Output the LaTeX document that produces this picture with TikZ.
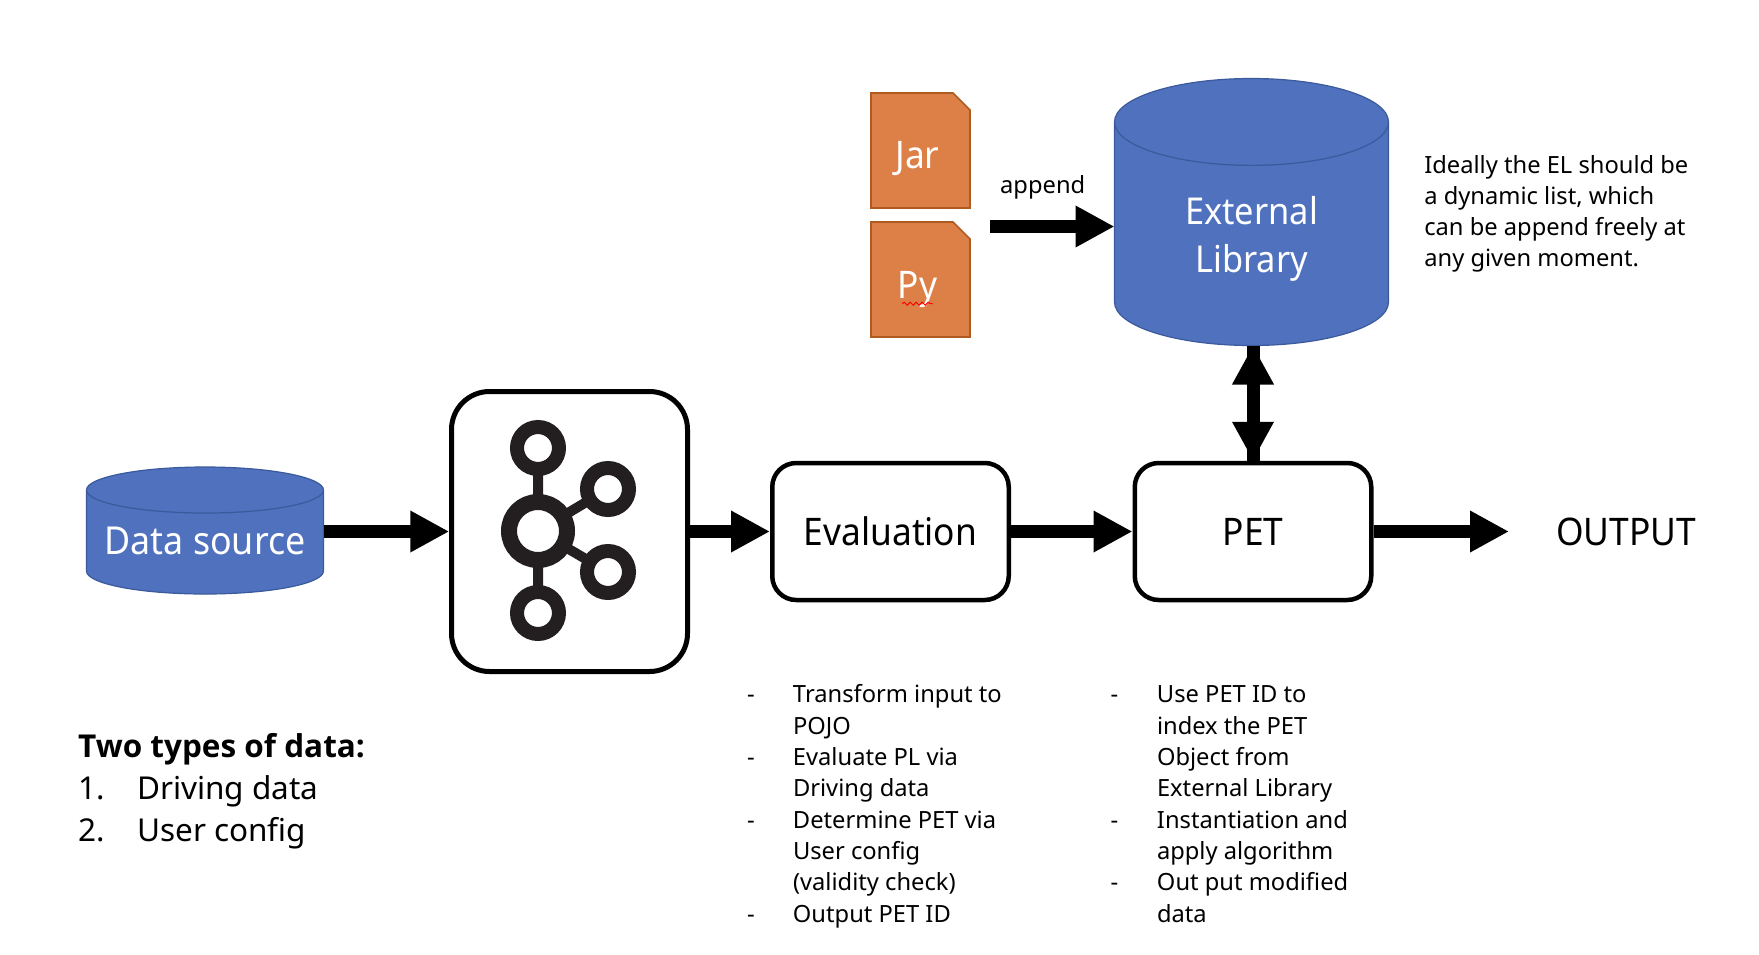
\documentclass[tikz,border=0pt]{standalone}
\usepackage{fontspec}
\setmainfont{Noto Sans}
\newfontfamily\narrowfont[FakeStretch=0.93]{Noto Sans}
\newfontfamily\headfont{Open Sans}
\usetikzlibrary{arrows.meta,calc,shapes.geometric,decorations.pathmorphing}
\definecolor{dbblue}{HTML}{4F71BE}
\definecolor{dbedge}{HTML}{3A5A9B}
\definecolor{docorange}{HTML}{DD8047}
\definecolor{docedge}{HTML}{AE5A21}
\definecolor{logoblack}{HTML}{231F20}
\tikzset{
	dbnode/.style={shape=cylinder,shape border rotate=90,anchor=shape center,draw=dbedge,fill=dbblue,line width=1.2pt,text=white,inner sep=0pt,outer sep=0pt,align=center},
	procbox/.style={draw,rounded corners=24pt,line width=4.5pt,fill=white,inner sep=0pt,outer sep=2.25pt,minimum width=236.5pt,minimum height=137pt},
	flow/.style={line width=13pt,-{Triangle[length=39pt,width=39pt]}},
	twoway/.style={line width=13pt,{Triangle[length=39pt,width=39pt]}-{Triangle[length=39pt,width=39pt]}},
	twoshaft/.style={line width=13pt},
	docshape/.style={draw=docedge,fill=docorange,line width=1.6pt},
	note/.style={font=\fontsize{23.7}{31.3}\selectfont,inner sep=0pt,outer sep=0pt},
}
\begin{document}
\begin{tikzpicture}[x=1pt,y=-1pt]
	\useasboundingbox (0,0) rectangle (1759,954);
	% documents
	\foreach \y in {93,222} {
		\draw[docshape] (871,\y) -- (953,\y) -- (970,\y+17) -- (970,\y+115) -- (871,\y+115) -- cycle;
	}
	\node[text=white,font=\narrowfont\fontsize{38}{38}\selectfont] (jar) at (917.5,159) {Jar};
	\node[text=white,font=\narrowfont\fontsize{38}{38}\selectfont] (py) at (917.5,289) {Py};
	\draw[red,line width=1pt,decorate,decoration={snake,amplitude=1.5pt,segment length=6pt}] ($(py.south west)+(8,-7)$) -- ($(py.south east)+(-8,-7)$);
	% databases
	\node[dbnode,minimum width=274pt,minimum height=267pt,shape aspect=0.654,font=\narrowfont\fontsize{37}{48}\selectfont] (extlib) at (1251.5,212) {\smash{\raisebox{-11.5pt}{\begin{tabular}{@{}c@{}}External\\Library\end{tabular}}}};
	\node[dbnode,minimum width=237pt,minimum height=127pt,shape aspect=0.229,font=\narrowfont\fontsize{38.5}{38.5}\selectfont] (datasrc) at (205,530.5) {\smash{\raisebox{-12pt}{Data source}}};
	% boxes
	\node[procbox,rounded corners=38pt,line width=5pt,minimum width=236pt,minimum height=280pt] (kafka) at (569.5,531.5) {};
	\node[procbox,font=\narrowfont\fontsize{38}{38}\selectfont] (eval) at (890.5,531.5) {Evaluation};
	\node[procbox,font=\narrowfont\fontsize{38}{38}\selectfont] (pet) at (1253,531.5) {PET};
	\node[font=\narrowfont\fontsize{38}{38}\selectfont,inner sep=0pt] (output) at (1626,532) {OUTPUT};
	% logo
	\draw[logoblack,line width=10pt] (538,448) -- (538,613) (538,531) -- (608,489) (538,531) -- (608,572);
	\foreach \cx/\cy in {538/448,608/489,608/572,538/613} {
		\draw[logoblack,line width=14pt,fill=white] (\cx,\cy) circle (21pt);
	}
	\draw[logoblack,line width=16pt,fill=white] (538,531) circle (29pt);
	% flows
	\coordinate (appendstart) at (990,226.5);
	\coordinate (outend) at (1509,531.5);
	\draw[flow] (kafka.west -| datasrc.east) -- (kafka.west);
	\draw[flow] (kafka.east) -- (eval.west);
	\draw[flow] (eval.east) -- (pet.west);
	\draw[flow] (pet.east) -- (outend);
	\draw[flow] (appendstart) -- (appendstart -| extlib.west);
	\draw[twoshaft] (extlib.south -| pet.north) -- (pet.north);
	\draw[twoway] (extlib.south -| pet.north) -- (pet.north);
	% labels
	\node[note] (appendlbl) at (1042.7,187) {append};
	\node[note,anchor=north west,align=left] (elnote) at (1424.3,155) {Ideally the EL should be\\a dynamic list, which\\can be append freely at\\any given moment.};
	\node[note,anchor=north west] (evalnote) at (747,681) {\begin{tabular}{@{}p{46pt}@{}l@{}}
		- & Transform input to\\ & POJO\\
		- & Evaluate PL via\\ & Driving data\\
		- & Determine PET via\\ & User config\\ & (validity check)\\
		- & Output PET ID
	\end{tabular}};
	\node[note,anchor=north west] (petnote) at (1110.6,681) {\begin{tabular}{@{}p{46.4pt}@{}l@{}}
		- & Use PET ID to\\ & index the PET\\ & Object from\\ & External Library\\
		- & Instantiation and\\ & apply algorithm\\
		- & Out put modified\\ & data
	\end{tabular}};
	\node[anchor=north west,inner sep=0pt,font=\fontsize{31.5}{42}\selectfont] (typesnote) at (78,728) {\begin{tabular}{@{}p{59pt}@{}l@{}}
		\multicolumn{2}{@{}l}{\headfont\bfseries Two types of data:}\\
		1. & Driving data\\
		2. & User config
	\end{tabular}};
\end{tikzpicture}
\end{document}
